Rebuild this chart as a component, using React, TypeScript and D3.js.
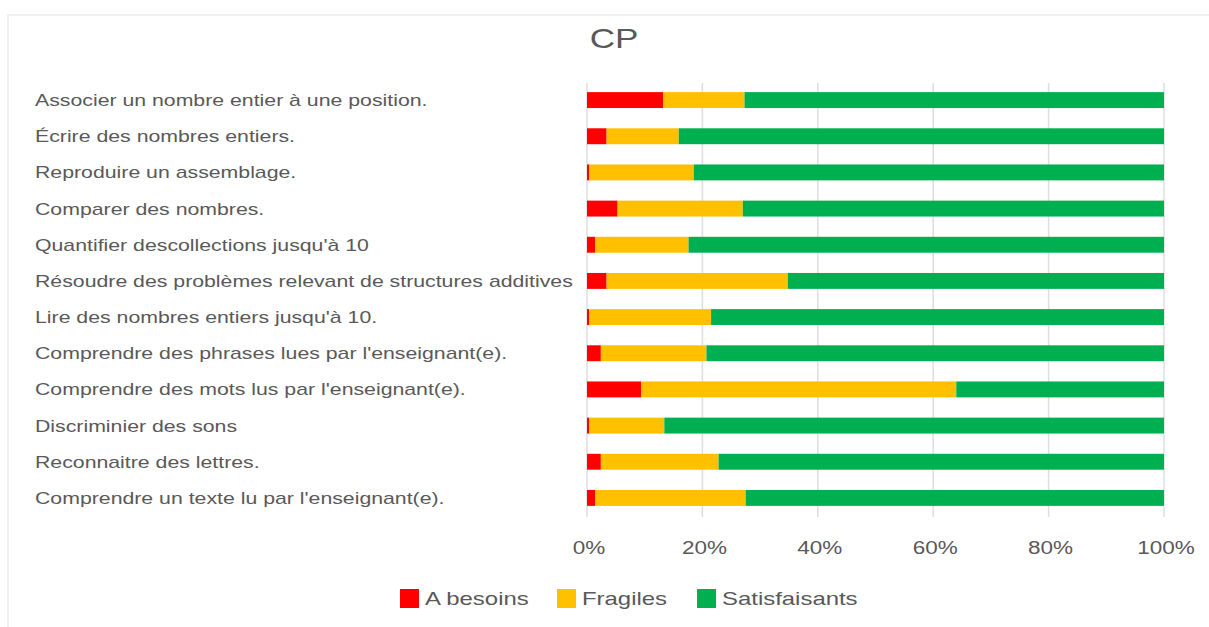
import React from "react";
import * as d3 from "d3";

const categories = [
  "Associer un nombre entier à une position.",
  "Écrire des nombres entiers.",
  "Reproduire un assemblage.",
  "Comparer des nombres.",
  "Quantifier descollections jusqu'à 10",
  "Résoudre des problèmes relevant de structures additives",
  "Lire des nombres entiers jusqu'à 10.",
  "Comprendre des phrases lues par l'enseignant(e).",
  "Comprendre des mots lus par l'enseignant(e).",
  "Discriminier des sons",
  "Reconnaitre des lettres.",
  "Comprendre un texte lu par l'enseignant(e).",
];
const aBesoins = [13.2, 3.4, 0.4, 5.3, 1.4, 3.4, 0.4, 2.4, 9.4, 0.4, 2.4, 1.4];
const fragiles = [14.1, 12.5, 18.1, 21.7, 16.2, 31.4, 21.1, 18.3, 54.6, 13.0, 20.4, 26.1];
const satisfaisants = aBesoins.map((a, i) => 100 - a - fragiles[i]);
const seriesNames = ["A besoins", "Fragiles", "Satisfaisants"];
const seriesColors = ["#ff0000", "#ffc000", "#00b050"];
const ticks = [0, 20, 40, 60, 80, 100];

const SX = 1.33;
const FONT = "Liberation Sans, Arial, sans-serif";

export default function App() {
  const W = 1209, H = 627;
  const x = d3.scaleLinear().domain([0, 100]).range([587, 1164]);
  const y = d3.scaleBand().domain(categories).range([82, 516]).paddingInner(0.56).paddingOuter(0.28);
  const rows = categories.map((c, i) => ({ c, v: [aBesoins[i], fragiles[i], satisfaisants[i]] }));
  const stack = d3.stack<any>().keys(["0", "1", "2"]).value((d, k) => d.v[+k])(rows);
  const legendX = [400, 557, 697];
  return (
    <svg width={W} height={H} style={{ position: "absolute", left: 0, top: 0, background: "#fff" }}>
      <rect x={8} y={15} width={1220} height={640} fill="#fff" stroke="#ebebeb" strokeWidth={1.5} />
      <g transform={`translate(614,48) scale(1.3,1)`}>
        <text textAnchor="middle" fontFamily={FONT} fontSize={27} fill="#595959">CP</text>
      </g>
      {ticks.map((t) => (
        <line key={t} x1={x(t)} x2={x(t)} y1={83} y2={517} stroke="#dedede" strokeWidth={1.5} />
      ))}
      {stack.map((s, si) =>
        s.map((d, i) => (
          <rect key={si + "-" + i} x={x(d[0])} width={Math.max(0, x(d[1]) - x(d[0]))}
            y={y(categories[i])!} height={y.bandwidth()} fill={seriesColors[si]} />
        ))
      )}
      {categories.map((c) => (
        <g key={c} transform={`translate(35,${y(c)! + y.bandwidth() / 2 + 6}) scale(${SX},1)`}>
          <text fontFamily={FONT} fontSize={16} fill="#595959">{c}</text>
        </g>
      ))}
      {ticks.map((t) => (
        <g key={t} transform={`translate(${x(t) + 2},${554}) scale(1.25,1)`}>
          <text textAnchor="middle" fontFamily={FONT} fontSize={18} fill="#595959">{t}%</text>
        </g>
      ))}
      {seriesNames.map((n, i) => (
        <g key={n}>
          <rect x={legendX[i]} y={589} width={19} height={19} fill={seriesColors[i]} />
          <g transform={`translate(${legendX[i] + 25},605) scale(${SX},1)`}>
            <text fontFamily={FONT} fontSize={18} fill="#595959">{n}</text>
          </g>
        </g>
      ))}
    </svg>
  );
}
